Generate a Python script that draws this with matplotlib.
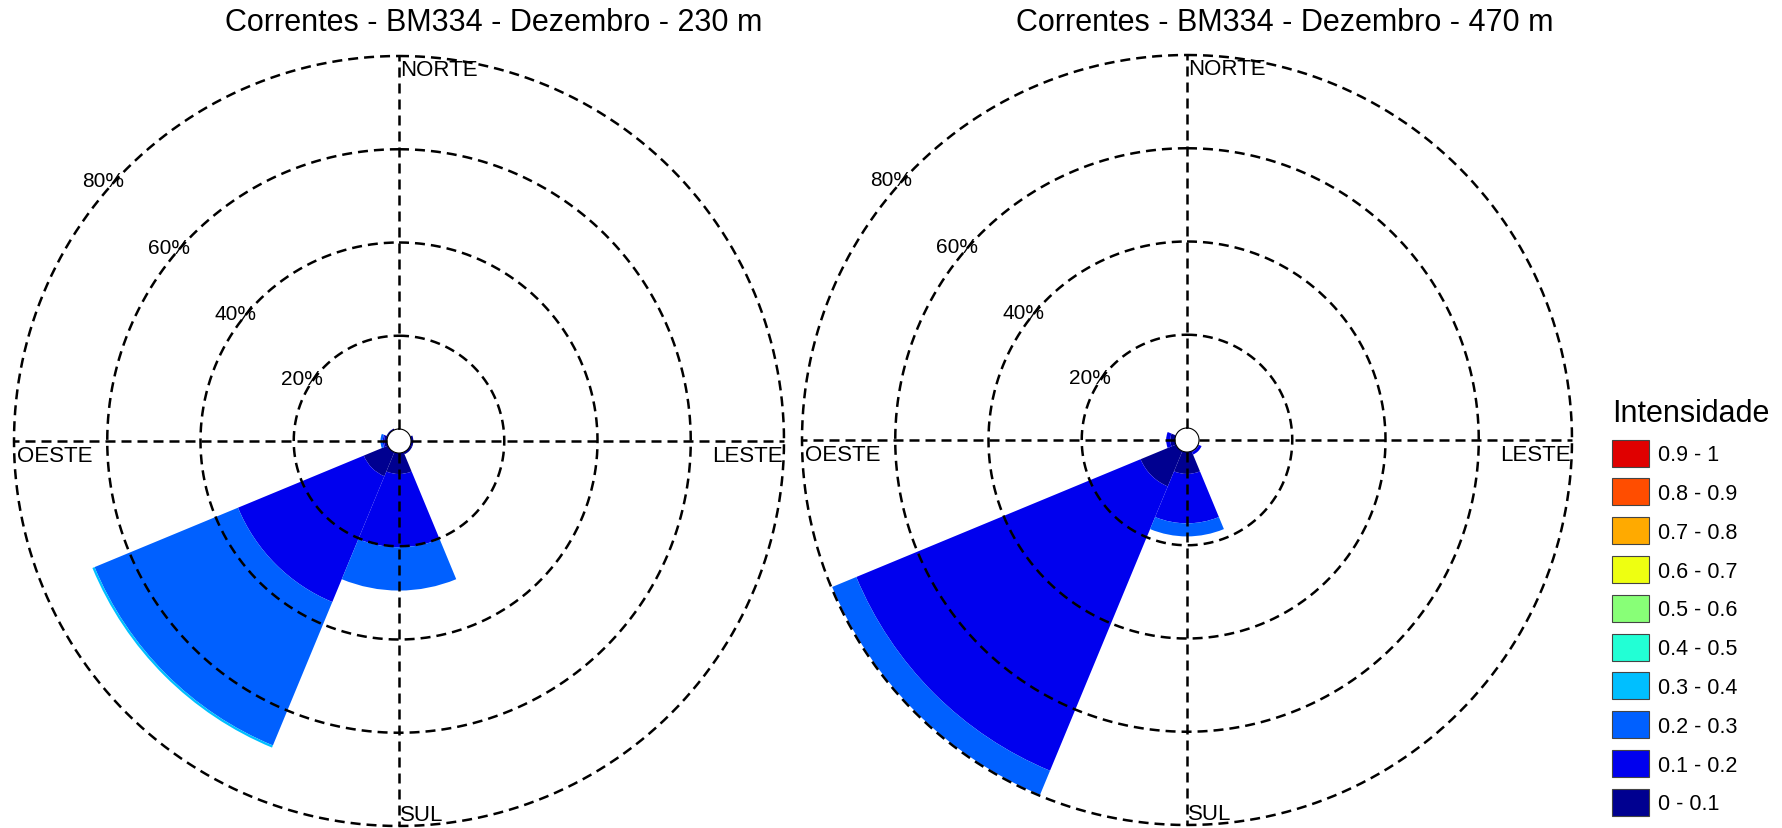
import numpy as np
import matplotlib
matplotlib.use('Agg')
import matplotlib.pyplot as plt
from matplotlib.patches import Patch

plt.rcParams['font.family'] = ['Liberation Sans', 'DejaVu Sans']

# direction sectors (compass, clockwise from north)
directions = ['N', 'NE', 'E', 'SE', 'S', 'SW', 'W', 'NW']
dir_angles = [0, 45, 90, 135, 180, 225, 270, 315]

bin_labels = ['0 - 0.1', '0.1 - 0.2', '0.2 - 0.3', '0.3 - 0.4', '0.4 - 0.5',
              '0.5 - 0.6', '0.6 - 0.7', '0.7 - 0.8', '0.8 - 0.9', '0.9 - 1']
bin_colors = ['#000090', '#0000EE', '#0060FF', '#00BFFF', '#22FFD5',
              '#88FF77', '#EEFF11', '#FFAA00', '#FF4D00', '#E00000']

# frequency (%) per direction, one list per intensity bin - 230 m
freq_230_b0 = [0, 0, 0.5, 0.5, 4.5, 5.6, 0.6, 0.3]
freq_230_b1 = [0, 0, 0, 0, 15.7, 29.2, 0.3, 0]
freq_230_b2 = [0, 0, 0, 0, 9.3, 33.3, 0.5, 0]
freq_230_b3 = [0, 0, 0, 0, 0, 0.5, 0, 0]

# 470 m
freq_470_b0 = [0, 0, 0, 0.2, 4.7, 8.2, 1.0, 0]
freq_470_b1 = [0, 0, 0, 0.6, 10.6, 66.0, 0.9, 0]
freq_470_b2 = [0, 0, 0, 0, 2.8, 5.6, 0, 0]
freq_470_b3 = [0, 0, 0, 0, 0, 0, 0, 0]

rings = [20, 40, 60, 80]
ring_labels = ['20%', '40%', '60%', '80%']

titles = ['Correntes - BM334 - Dezembro - 230 m',
          'Correntes - BM334 - Dezembro - 470 m']

W, H = 1782, 829
R = 385.0
hole = 12.0 / 4.65


def rose(ax, bins):
    ax.set_theta_zero_location('N')
    ax.set_theta_direction(-1)
    ax.set_ylim(0, 80)
    ax.set_rorigin(-hole)
    ax.grid(False)
    ax.set_xticks([])
    ax.set_yticks([])
    for s in ax.spines.values():
        s.set_visible(False)

    theta = np.deg2rad(dir_angles)
    bottom = np.zeros(len(directions))
    for k, vals in enumerate(bins):
        vals = np.array(vals, dtype=float)
        m = vals > 0
        if m.any():
            ax.bar(theta[m], vals[m], width=np.deg2rad(45), bottom=bottom[m],
                   color=bin_colors[k], linewidth=0, zorder=2)
        bottom += vals

    dash = (0, (4, 2.4))
    th = np.linspace(0, 2 * np.pi, 721)
    for p in rings:
        ax.plot(th, np.full_like(th, p), color='k', ls=dash, lw=1.8,
                clip_on=False, zorder=5)
    for a in [0, 90, 180, 270]:
        ax.plot([np.deg2rad(a)] * 2, [0, 80], color='k', ls=dash, lw=1.8,
                clip_on=False, zorder=5)

    # percent labels up-left of the centre
    lab_pos = [(302.6, 22.2), (308, 41.9), (310, 61.9), (311.4, 81.9)]
    for (b, r), t in zip(lab_pos, ring_labels):
        ax.text(np.deg2rad(b), r, t, ha='center', va='center', fontsize=15,
                zorder=6)

    fs = 16
    ax.text(0.5 + 1 / 770, 1 - 3 / 770, 'NORTE', transform=ax.transAxes,
            ha='left', va='top', fontsize=fs, zorder=6)
    ax.text(1 - 1 / 770, 0.5 - 4 / 770, 'LESTE', transform=ax.transAxes,
            ha='right', va='top', fontsize=fs, zorder=6)
    ax.text(3 / 770, 0.5 - 4 / 770, 'OESTE', transform=ax.transAxes,
            ha='left', va='top', fontsize=fs, zorder=6)
    ax.text(0.5 + 1 / 770, 6 / 770, 'SUL', transform=ax.transAxes,
            ha='left', va='baseline', fontsize=fs, zorder=6)


fig = plt.figure(figsize=(W / 100, H / 100), dpi=100)
centers = [(399, 442), (1187, 441)]
title_x = [494, 1285]
data = [[freq_230_b0, freq_230_b1, freq_230_b2, freq_230_b3],
        [freq_470_b0, freq_470_b1, freq_470_b2, freq_470_b3]]

for (cx, cy), bins, t, tx in zip(centers, data, titles, title_x):
    ax = fig.add_axes([(cx - R) / W, (H - cy - R) / H, 2 * R / W, 2 * R / H],
                      projection='polar')
    ax.patch.set_alpha(0)
    rose(ax, bins)
    fig.text(tx / W, 1 - 23 / H, t, ha='center', va='center', fontsize=22)

handles = [Patch(facecolor=c, edgecolor='#444444', linewidth=0.8, label=l)
           for c, l in zip(bin_colors[::-1], bin_labels[::-1])]
fig.legend(handles=handles, title='Intensidade', loc='upper left',
           bbox_to_anchor=(1601 / W, 1 - 388 / H), frameon=False,
           fontsize=15.5, title_fontsize=22, handlelength=1.75,
           handleheight=1.55, labelspacing=0.55, handletextpad=0.4,
           borderpad=0, alignment='left')

fig.savefig('out.png', dpi=100, facecolor='white')
